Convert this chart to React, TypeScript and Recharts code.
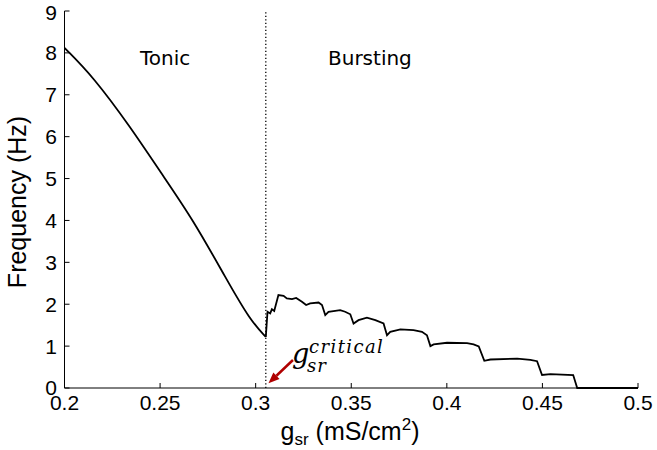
import React from 'react';
import { LineChart, Line, XAxis, YAxis, ReferenceLine } from 'recharts';

// tonic branch (g_sr in mS/cm^2, frequency in Hz)
const tonicG = [0.2, 0.215, 0.2343, 0.2501, 0.2674, 0.2849, 0.2971, 0.3053];
const tonicF = [8.12, 7.43, 6.24, 5.16, 4.01, 2.58, 1.62, 1.22];

// bursting branch
const burstG = [
  0.3053, 0.3062, 0.3076, 0.3085, 0.3097, 0.3119, 0.3146, 0.3163, 0.319, 0.3212,
  0.3242, 0.3264, 0.3285, 0.3329, 0.3347, 0.3364, 0.3381, 0.3442, 0.3468, 0.3495,
  0.3512, 0.3538, 0.3582, 0.3626, 0.3669, 0.3687, 0.3704, 0.3757, 0.3826, 0.387,
  0.3896, 0.3914, 0.3931, 0.4001, 0.4106, 0.414, 0.4167, 0.4196, 0.4228, 0.4368,
  0.4437, 0.4472, 0.4498, 0.4542, 0.4661, 0.4682, 0.5
];
const burstF = [
  1.22, 1.82, 1.78, 1.88, 1.84, 2.22, 2.2, 2.14, 2.12, 2.15,
  2.06, 1.98, 2.02, 2.04, 1.98, 1.74, 1.82, 1.86, 1.82, 1.76,
  1.54, 1.62, 1.68, 1.62, 1.54, 1.26, 1.34, 1.4, 1.38, 1.34,
  1.26, 1.0, 1.04, 1.08, 1.07, 1.04, 0.99, 0.65, 0.68, 0.7,
  0.67, 0.64, 0.31, 0.33, 0.31, 0, 0
];

const xTicks = [0.2, 0.25, 0.3, 0.35, 0.4, 0.45, 0.5];
const yTicks = [0, 1, 2, 3, 4, 5, 6, 7, 8, 9];
const gCritical = 0.3053;

const tonicData = tonicG.map((g, i) => ({ g, f: tonicF[i] }));
const burstData = burstG.map((g, i) => ({ g, f: burstF[i] }));

const tickFont = { fontFamily: 'Liberation Sans, Arial, sans-serif', fontSize: 21, fill: '#000' };

const Arrow = (props: any) => {
  const { x1, y1, x2, y2 } = props;
  const dx = x2 - x1;
  const dy = y2 - y1;
  const len = Math.sqrt(dx * dx + dy * dy);
  const ux = dx / len;
  const uy = dy / len;
  const hl = 11;
  const hw = 4.5;
  const bx = x2 - ux * hl;
  const by = y2 - uy * hl;
  const pts = `${x2},${y2} ${bx - uy * hw},${by + ux * hw} ${bx + uy * hw},${by - ux * hw}`;
  return (
    <g>
      <line x1={x1} y1={y1} x2={bx} y2={by} stroke="#b00000" strokeWidth={2.5} />
      <polygon points={pts} fill="#b00000" />
    </g>
  );
};

export default function App() {
  return (
    <div style={{ position: 'absolute', left: 0, top: 0, width: 657, height: 450 }}>
      <LineChart
        width={657}
        height={450}
        margin={{ top: 11, right: 19, bottom: 0, left: 0 }}
      >
        <XAxis
          xAxisId="b"
          type="number"
          dataKey="g"
          domain={[0.2, 0.5]}
          ticks={xTicks}
          allowDataOverflow
          height={62}
          stroke="#000"
          tickSize={-5}
          tickMargin={12}
          tick={tickFont}
          tickFormatter={(v: number) => String(v)}
        />
        <XAxis
          xAxisId="t"
          orientation="top"
          type="number"
          dataKey="g"
          domain={[0.2, 0.5]}
          ticks={xTicks}
          height={0}
          stroke="#000"
          tickSize={-5}
          tick={false}
        />
        <YAxis
          yAxisId="l"
          type="number"
          domain={[0, 9]}
          ticks={yTicks}
          width={64.5}
          stroke="#000"
          tickSize={-5}
          tickMargin={12.5}
          tick={tickFont}
        />
        <YAxis
          yAxisId="r"
          orientation="right"
          type="number"
          domain={[0, 9]}
          ticks={yTicks}
          width={0}
          stroke="#000"
          tickSize={-5}
          tick={false}
        />
        <ReferenceLine
          xAxisId="b"
          yAxisId="l"
          x={gCritical}
          stroke="#000"
          strokeWidth={1.3}
          strokeDasharray="1.3 2.2"
        />
        <Line
          xAxisId="b"
          yAxisId="l"
          data={tonicData}
          dataKey="f"
          type="basis"
          stroke="#000"
          strokeWidth={1.8}
          dot={false}
          isAnimationActive={false}
        />
        <Line
          xAxisId="b"
          yAxisId="l"
          data={burstData}
          dataKey="f"
          type="linear"
          stroke="#000"
          strokeWidth={1.8}
          dot={false}
          isAnimationActive={false}
        />
        <ReferenceLine
          xAxisId="b"
          yAxisId="l"
          segment={[{ x: 0.3195, y: 0.668 }, { x: 0.3067, y: 0.112 }]}
          shape={Arrow}
        />
      </LineChart>
      <svg
        width={657}
        height={450}
        style={{ position: 'absolute', left: 0, top: 0, pointerEvents: 'none' }}
      >
        <g fontFamily="DejaVu Sans, sans-serif" fontSize={20} fill="#000">
          <text x={140} y={65}>Tonic</text>
          <text x={328} y={65}>Bursting</text>
        </g>
        <g fontFamily="DejaVu Serif, serif" fontStyle="italic" fill="#000">
          <text x={292} y={363} fontSize={27}>g</text>
          <text x={309} y={353} fontSize={18} letterSpacing={1.4}>critical</text>
          <text x={307} y={372} fontSize={18} letterSpacing={1}>sr</text>
        </g>
        <g fontFamily="Liberation Sans, Arial, sans-serif" fill="#000">
          <text x={350} y={440} fontSize={25} textAnchor="middle">
            g<tspan fontSize={17} dy={5}>sr</tspan>
            <tspan dy={-5}> (mS/cm</tspan>
            <tspan fontSize={17} dy={-10}>2</tspan>
            <tspan dy={10}>)</tspan>
          </text>
          <text x={26} y={202} fontSize={25} textAnchor="middle" transform="rotate(-90 26 202)">
            Frequency (Hz)
          </text>
        </g>
      </svg>
    </div>
  );
}
